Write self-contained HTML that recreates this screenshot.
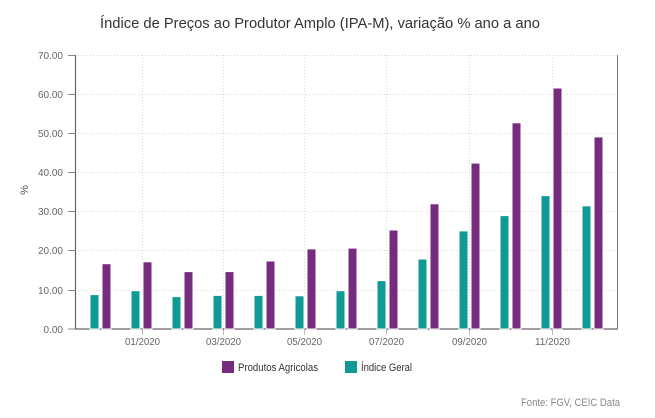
<!DOCTYPE html>
<html>
<head>
<meta charset="utf-8">
<style>
  html,body{margin:0;padding:0;background:#fff;}
  svg{display:block;}
  text{font-family:"Liberation Sans", "DejaVu Sans", sans-serif;}
</style>
</head>
<body>
<svg width="655" height="418" viewBox="0 0 655 418" xmlns="http://www.w3.org/2000/svg">
  <rect width="655" height="418" fill="#fff"/>
  <!-- Title -->
  <text x="100" y="28" font-size="15" fill="#333" textLength="440" lengthAdjust="spacingAndGlyphs">Índice de Preços ao Produtor Amplo (IPA-M), variação % ano a ano</text>

  <!-- horizontal gridlines -->
  <g stroke="#d8d8d8" stroke-width="1" stroke-dasharray="1,2">
    <line x1="75" y1="55.5" x2="617" y2="55.5"/>
    <line x1="75" y1="94.5" x2="617" y2="94.5"/>
    <line x1="75" y1="133.5" x2="617" y2="133.5"/>
    <line x1="75" y1="172.5" x2="617" y2="172.5"/>
    <line x1="75" y1="211.5" x2="617" y2="211.5"/>
    <line x1="75" y1="250.5" x2="617" y2="250.5"/>
    <line x1="75" y1="290.5" x2="617" y2="290.5"/>
  </g>
  <!-- vertical gridlines -->
  <g stroke="#d8d8d8" stroke-width="1" stroke-dasharray="1,2">
    <line x1="142.5" y1="55" x2="142.5" y2="329"/>
    <line x1="223.5" y1="55" x2="223.5" y2="329"/>
    <line x1="304.5" y1="55" x2="304.5" y2="329"/>
    <line x1="386.5" y1="55" x2="386.5" y2="329"/>
    <line x1="469.5" y1="55" x2="469.5" y2="329"/>
    <line x1="552.5" y1="55" x2="552.5" y2="329"/>
  </g>
  <!-- x ticks -->
  <g stroke="#bbb" stroke-width="1">
    <line x1="142.5" y1="329" x2="142.5" y2="335"/>
    <line x1="223.5" y1="329" x2="223.5" y2="335"/>
    <line x1="304.5" y1="329" x2="304.5" y2="335"/>
    <line x1="386.5" y1="329" x2="386.5" y2="335"/>
    <line x1="469.5" y1="329" x2="469.5" y2="335"/>
    <line x1="552.5" y1="329" x2="552.5" y2="335"/>
  </g>

  <!-- baseline -->
  <line x1="75" y1="329" x2="617.5" y2="329" stroke="#666" stroke-width="1.2"/>

  <!-- bars: teal -->
  <g fill="#0f9a96" stroke="#fff" stroke-width="1">
    <rect x="90" y="294.6" width="9" height="34.4"/>
    <rect x="131" y="290.7" width="9" height="38.3"/>
    <rect x="172" y="296.6" width="9" height="32.4"/>
    <rect x="213" y="295.4" width="9" height="33.6"/>
    <rect x="254" y="295.4" width="9" height="33.6"/>
    <rect x="295" y="295.8" width="9" height="33.2"/>
    <rect x="336" y="290.7" width="9" height="38.3"/>
    <rect x="377" y="280.6" width="9" height="48.4"/>
    <rect x="418" y="259.0" width="9" height="70.0"/>
    <rect x="459" y="230.9" width="9" height="98.1"/>
    <rect x="500" y="215.6" width="9" height="113.4"/>
    <rect x="541" y="195.6" width="9" height="133.4"/>
    <rect x="582" y="205.8" width="9" height="123.2"/>
  </g>
  <!-- bars: purple -->
  <g fill="#772b7f" stroke="#fff" stroke-width="1">
    <rect x="102" y="263.7" width="9" height="65.3"/>
    <rect x="143" y="261.8" width="9" height="67.2"/>
    <rect x="184" y="271.6" width="9" height="57.4"/>
    <rect x="225" y="271.6" width="9" height="57.4"/>
    <rect x="266" y="261.0" width="9" height="68.0"/>
    <rect x="307" y="248.9" width="9" height="80.1"/>
    <rect x="348" y="248.1" width="9" height="80.9"/>
    <rect x="389" y="230.0" width="9" height="99.0"/>
    <rect x="430" y="203.8" width="9" height="125.2"/>
    <rect x="471" y="163.1" width="9" height="165.9"/>
    <rect x="512" y="122.8" width="9" height="206.2"/>
    <rect x="553" y="88.0" width="9" height="241.0"/>
    <rect x="594" y="136.9" width="9" height="192.1"/>
  </g>

  <!-- axes -->
  <line x1="75.5" y1="55" x2="75.5" y2="329.5" stroke="#666" stroke-width="1.2"/>
  <line x1="617.5" y1="55" x2="617.5" y2="329.5" stroke="#777" stroke-width="1"/>
  <!-- y ticks -->
  <g stroke="#888" stroke-width="1">
    <line x1="68" y1="55.5" x2="75" y2="55.5"/>
    <line x1="68" y1="94.5" x2="75" y2="94.5"/>
    <line x1="68" y1="133.5" x2="75" y2="133.5"/>
    <line x1="68" y1="172.5" x2="75" y2="172.5"/>
    <line x1="68" y1="211.5" x2="75" y2="211.5"/>
    <line x1="68" y1="250.5" x2="75" y2="250.5"/>
    <line x1="68" y1="290.5" x2="75" y2="290.5"/>
    <line x1="68" y1="329" x2="75" y2="329"/>
  </g>

  <!-- y labels -->
  <g font-size="10" fill="#666" text-anchor="end">
    <text x="63" y="59">70.00</text>
    <text x="63" y="98">60.00</text>
    <text x="63" y="137">50.00</text>
    <text x="63" y="176">40.00</text>
    <text x="63" y="215">30.00</text>
    <text x="63" y="254">20.00</text>
    <text x="63" y="294">10.00</text>
    <text x="63" y="333">0.00</text>
  </g>
  <text x="0" y="0" font-size="11" fill="#555" text-anchor="middle" transform="translate(28,190) rotate(-90)">%</text>

  <!-- x labels -->
  <g font-size="10" fill="#666" text-anchor="middle">
    <text x="142.5" y="345" textLength="35" lengthAdjust="spacingAndGlyphs">01/2020</text>
    <text x="223.5" y="345" textLength="35" lengthAdjust="spacingAndGlyphs">03/2020</text>
    <text x="304.5" y="345" textLength="35" lengthAdjust="spacingAndGlyphs">05/2020</text>
    <text x="386.5" y="345" textLength="35" lengthAdjust="spacingAndGlyphs">07/2020</text>
    <text x="469.5" y="345" textLength="35" lengthAdjust="spacingAndGlyphs">09/2020</text>
    <text x="552.5" y="345" textLength="35" lengthAdjust="spacingAndGlyphs">11/2020</text>
  </g>

  <!-- legend -->
  <rect x="222" y="361" width="12" height="12" fill="#772b7f"/>
  <text x="238" y="371" font-size="11" fill="#333" textLength="80" lengthAdjust="spacingAndGlyphs">Produtos Agricolas</text>
  <rect x="345" y="361" width="12" height="12" fill="#0f9a96"/>
  <text x="361" y="371" font-size="11" fill="#333" textLength="51" lengthAdjust="spacingAndGlyphs">Índice Geral</text>

  <!-- source -->
  <text x="521" y="406" font-size="11" fill="#888" textLength="99" lengthAdjust="spacingAndGlyphs">Fonte: FGV, CEIC Data</text>
</svg>
</body>
</html>
